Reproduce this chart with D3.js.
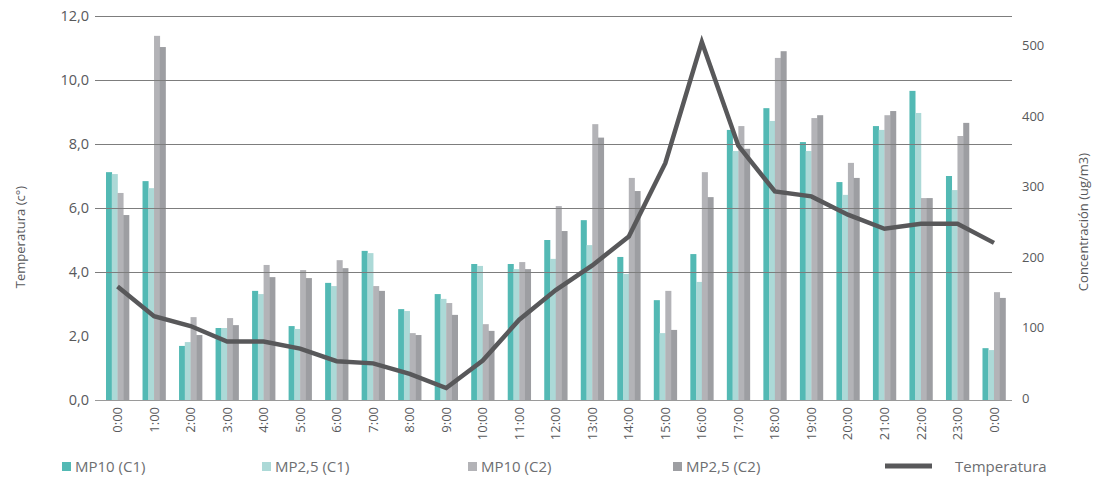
<!DOCTYPE html>
<html>
<head>
<meta charset="utf-8">
<script src="https://cdn.jsdelivr.net/npm/d3@7"></script>
<style>
  body { margin: 0; background: #fff; }
  text { font-family: "Open Sans", sans-serif; }
</style>
</head>
<body>
<svg id="chart"></svg>
<script>
const width = 1093;
const height = 483;

// heures (0:00 revient a la fin)
const heures = ["0:00","1:00","2:00","3:00","4:00","5:00","6:00","7:00","8:00","9:00","10:00","11:00",
  "12:00","13:00","14:00","15:00","16:00","17:00","18:00","19:00","20:00","21:00","22:00","23:00","0:00"];

const series = ["MP10 (C1)", "MP2,5 (C1)", "MP10 (C2)", "MP2,5 (C2)"];
const couleurs = ["#53b9b4", "#acd9d7", "#b3b3b7", "#9d9ea2"];

const mp10c1 = [7.12, 6.84, 1.69, 2.25, 3.41, 2.31, 3.66, 4.66, 2.84, 3.31, 4.25, 4.25, 5.0, 5.62, 4.47, 3.12, 4.56, 8.44, 9.12, 8.06, 6.81, 8.56, 9.66, 7.0, 1.62];
const mp25c1 = [7.06, 6.62, 1.81, 2.25, 3.31, 2.22, 3.56, 4.59, 2.78, 3.16, 4.19, 4.09, 4.41, 4.84, 3.94, 2.09, 3.69, 7.78, 8.72, 7.78, 6.41, 8.44, 8.97, 6.56, 1.56];
const mp10c2 = [6.47, 11.38, 2.59, 2.56, 4.22, 4.06, 4.37, 3.56, 2.09, 3.03, 2.37, 4.31, 6.06, 8.62, 6.94, 3.41, 7.12, 8.56, 10.69, 8.81, 7.41, 8.9, 6.31, 8.25, 3.37];
const mp25c2 = [5.78, 11.03, 2.03, 2.34, 3.84, 3.81, 4.12, 3.41, 2.03, 2.66, 2.16, 4.09, 5.28, 8.2, 6.53, 2.19, 6.34, 7.85, 10.9, 8.9, 6.94, 9.03, 6.31, 8.66, 3.19];

const temperatura = [161, 119, 105, 83, 83, 73, 55, 52, 37, 17, 56, 114, 156, 191, 232, 336, 508, 361, 296, 289, 263, 243, 250, 250, 223];

const ticksGauche = [0, 2, 4, 6, 8, 10, 12];
const ticksDroite = [0, 100, 200, 300, 400, 500];

const svg = d3.select("#chart")
  .attr("width", width)
  .attr("height", height);

const locale = d3.formatLocale({decimal: ",", thousands: ".", grouping: [3], currency: ["", ""]});
const fmt = locale.format(".1f");

const x = d3.scaleBand()
  .domain(d3.range(heures.length))
  .range([99.25, 1012.25])
  .paddingInner(0.37)
  .paddingOuter(0.185);

const xSerie = d3.scaleBand()
  .domain(d3.range(series.length))
  .range([0, x.bandwidth()]);

const yG = d3.scaleLinear().domain([0, 12]).range([400, 16]);
const yD = d3.scaleLinear().domain([0, 545]).range([400, 16]);

const valeurs = [mp10c1, mp25c1, mp10c2, mp25c2];

// barres
const groupes = svg.append("g").selectAll("g")
  .data(heures.map((h, i) => i))
  .join("g")
  .attr("transform", i => `translate(${x(i)},0)`);

groupes.selectAll("rect")
  .data(i => valeurs.map((v, s) => ({s: s, v: v[i]})))
  .join("rect")
  .attr("x", d => xSerie(d.s))
  .attr("width", xSerie.bandwidth() + 0.3)
  .attr("y", d => yG(d.v))
  .attr("height", d => yG(0) - yG(d.v))
  .attr("fill", d => couleurs[d.s]);

// lignes de grille (pas de ligne a 2,0 dans l'original)
svg.append("g").selectAll("line")
  .data(ticksGauche.filter(t => t >= 4))
  .join("line")
  .attr("x1", 95)
  .attr("x2", 1012)
  .attr("y1", d => Math.round(yG(d)) + 0.5)
  .attr("y2", d => Math.round(yG(d)) + 0.5)
  .attr("stroke", "#7d7d7d")
  .attr("stroke-width", 1.2);

// axe du bas
svg.append("line")
  .attr("x1", 95).attr("x2", 1012)
  .attr("y1", 400.5).attr("y2", 400.5)
  .attr("stroke", "#9a9a9a")
  .attr("stroke-width", 1.2);

// ligne temperatura
const ligne = d3.line()
  .x((d, i) => x(i) + x.bandwidth() / 2)
  .y(d => yD(d));

svg.append("path")
  .datum(temperatura)
  .attr("d", ligne)
  .attr("fill", "none")
  .attr("stroke", "#58585a")
  .attr("stroke-width", 4.5)
  .attr("stroke-linejoin", "miter");

// etiquettes axe gauche
svg.append("g").selectAll("text")
  .data(ticksGauche)
  .join("text")
  .attr("x", 89)
  .attr("y", d => yG(d))
  .attr("dy", "0.35em")
  .attr("text-anchor", "end")
  .attr("font-size", 14.5)
  .attr("fill", "#58595b")
  .text(d => fmt(d));

// etiquettes axe droit
svg.append("g").selectAll("text")
  .data(ticksDroite)
  .join("text")
  .attr("x", 1022)
  .attr("y", d => yD(d) - 2)
  .attr("dy", "0.35em")
  .attr("text-anchor", "start")
  .attr("font-size", 13)
  .attr("fill", "#58595b")
  .text(d => d);

// heures
svg.append("g").selectAll("text")
  .data(heures)
  .join("text")
  .attr("transform", (d, i) => `translate(${x(i) + x.bandwidth() / 2},407) rotate(-90)`)
  .attr("dy", "0.35em")
  .attr("text-anchor", "end")
  .attr("font-size", 13)
  .attr("fill", "#58595b")
  .text(d => d);

// titres des axes
svg.append("text")
  .attr("transform", "translate(20,237) rotate(-90)")
  .attr("dy", "0.35em")
  .attr("text-anchor", "middle")
  .attr("font-size", 13)
  .attr("fill", "#58595b")
  .text("Temperatura (c°)");

svg.append("text")
  .attr("transform", "translate(1083,222) rotate(-90)")
  .attr("dy", "0.35em")
  .attr("text-anchor", "middle")
  .attr("font-size", 13)
  .attr("fill", "#58595b")
  .text("Concentración (ug/m3)");

// legende
const legX = [62, 262, 468, 673];
const legende = svg.append("g");
series.forEach((s, i) => {
  legende.append("rect")
    .attr("x", legX[i]).attr("y", 462)
    .attr("width", 9).attr("height", 9)
    .attr("fill", couleurs[i]);
  legende.append("text")
    .attr("x", legX[i] + 13).attr("y", 467)
    .attr("dy", "0.35em")
    .attr("font-size", 15)
    .attr("fill", "#6d6e71")
    .text(s);
});
legende.append("line")
  .attr("x1", 885).attr("x2", 932)
  .attr("y1", 466).attr("y2", 466)
  .attr("stroke", "#58585a")
  .attr("stroke-width", 5);
legende.append("text")
  .attr("x", 955).attr("y", 467)
  .attr("dy", "0.35em")
  .attr("font-size", 15)
  .attr("fill", "#6d6e71")
  .text("Temperatura");
</script>
</body>
</html>
